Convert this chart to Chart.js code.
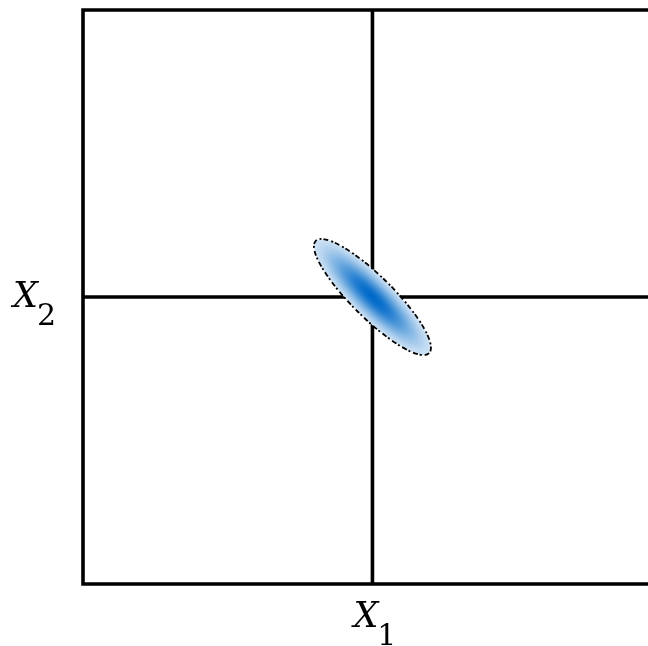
<!DOCTYPE html>
<html>
<head>
<meta charset="utf-8">
<title>Gaussian ellipse</title>
<script src="https://cdn.jsdelivr.net/npm/chart.js"></script>
<style>
  html, body { margin: 0; padding: 0; background: #fff; overflow: hidden; }
  #wrap { width: 648px; height: 646px; }
</style>
</head>
<body>
<div id="wrap"><canvas id="chart" width="648" height="646"></canvas></div>
<script>
// axis limits (data units); the right side of the frame runs off the picture
const xLimits = [-1, 0.952];
const yLimits = [-1, 1];
// where the two cross lines sit
const crossAt = [0, 0];
// ellipse: centre, semi-axes (data units), rotation of the long axis in degrees
const ellipseCenter = [0, 0];
const ellipseSemiAxes = [0.277, 0.072];
const ellipseAngleDeg = -45;
// axis labels: base letter + subscript
const xLabel = ['X', '1'];
const yLabel = ['X', '2'];

const lineWidth = 3.6;

// frame (left, top, bottom) and the two cross lines, drawn under the ellipse
const framePlugin = {
  id: 'frame',
  beforeDatasetsDraw(chart) {
    const { ctx, chartArea, scales } = chart;
    const x0 = scales.x.getPixelForValue(crossAt[0]);
    const y0 = scales.y.getPixelForValue(crossAt[1]);
    ctx.save();
    ctx.strokeStyle = '#000';
    ctx.lineWidth = lineWidth;
    ctx.lineCap = 'butt';
    ctx.lineJoin = 'miter';
    ctx.beginPath();
    ctx.moveTo(chartArea.right + 10, chartArea.top);
    ctx.lineTo(chartArea.left, chartArea.top);
    ctx.lineTo(chartArea.left, chartArea.bottom);
    ctx.lineTo(chartArea.right + 10, chartArea.bottom);
    ctx.moveTo(chartArea.left, y0);
    ctx.lineTo(chartArea.right + 10, y0);
    ctx.moveTo(x0, chartArea.top);
    ctx.lineTo(x0, chartArea.bottom);
    ctx.stroke();

    // labels
    const drawLabel = (parts, x, baseline) => {
      ctx.fillStyle = '#000';
      ctx.textBaseline = 'alphabetic';
      ctx.textAlign = 'left';
      ctx.font = 'italic 35px "DejaVu Serif"';
      ctx.fillText(parts[0], x, baseline);
      const w = ctx.measureText(parts[0]).width;
      ctx.font = '30px "DejaVu Serif"';
      ctx.fillText(parts[1], x + w - 1, baseline + 18);
    };
    drawLabel(xLabel, x0 - 19, chartArea.bottom + 43);
    drawLabel(yLabel, 13, y0 + 10);
    ctx.restore();
  }
};

// gaussian-looking filled ellipse with a dashed outline
const ellipsePlugin = {
  id: 'ellipse',
  afterDatasetsDraw(chart) {
    const { ctx, scales } = chart;
    const t = ellipseAngleDeg * Math.PI / 180;
    const px = v => scales.x.getPixelForValue(v);
    const py = v => scales.y.getPixelForValue(v);
    const cx = px(ellipseCenter[0]);
    const cy = py(ellipseCenter[1]);
    const ax = px(ellipseCenter[0] + ellipseSemiAxes[0] * Math.cos(t));
    const ay = py(ellipseCenter[1] + ellipseSemiAxes[0] * Math.sin(t));
    const bx = px(ellipseCenter[0] - ellipseSemiAxes[1] * Math.sin(t));
    const by = py(ellipseCenter[1] + ellipseSemiAxes[1] * Math.cos(t));
    const a = Math.hypot(ax - cx, ay - cy);
    const b = Math.hypot(bx - cx, by - cy);
    const rot = Math.atan2(ay - cy, ax - cx);

    ctx.save();
    ctx.translate(cx, cy);
    ctx.rotate(rot);
    ctx.scale(a, b);
    const g = ctx.createRadialGradient(0, 0, 0, 0, 0, 1);
    for (let i = 0; i <= 10; i++) {
      const r = i / 10;
      const k = Math.exp(-r * r * 1.7);
      const c = [255 - k * 255, 255 - k * 150, 255 - k * 55].map(Math.round);
      g.addColorStop(r, `rgb(${c[0]},${c[1]},${c[2]})`);
    }
    ctx.fillStyle = g;
    ctx.beginPath();
    ctx.arc(0, 0, 1, 0, Math.PI * 2);
    ctx.fill();
    ctx.restore();

    ctx.save();
    ctx.strokeStyle = '#000';
    ctx.lineWidth = 1.8;
    ctx.setLineDash([5, 3, 2, 2]);
    ctx.beginPath();
    ctx.ellipse(cx, cy, a, b, rot, 0, Math.PI * 2);
    ctx.stroke();
    ctx.restore();
  }
};

new Chart(document.getElementById('chart'), {
  type: 'scatter',
  data: {
    datasets: [{
      label: 'mean',
      data: [{ x: ellipseCenter[0], y: ellipseCenter[1] }],
      pointRadius: 0
    }]
  },
  options: {
    responsive: false,
    animation: false,
    layout: { padding: { left: 83, top: 10, right: 0, bottom: 62 } },
    plugins: { legend: { display: false }, tooltip: { enabled: false } },
    scales: {
      x: { display: false, min: xLimits[0], max: xLimits[1] },
      y: { display: false, min: yLimits[0], max: yLimits[1] }
    }
  },
  plugins: [ellipsePlugin, framePlugin]
});
</script>
</body>
</html>
